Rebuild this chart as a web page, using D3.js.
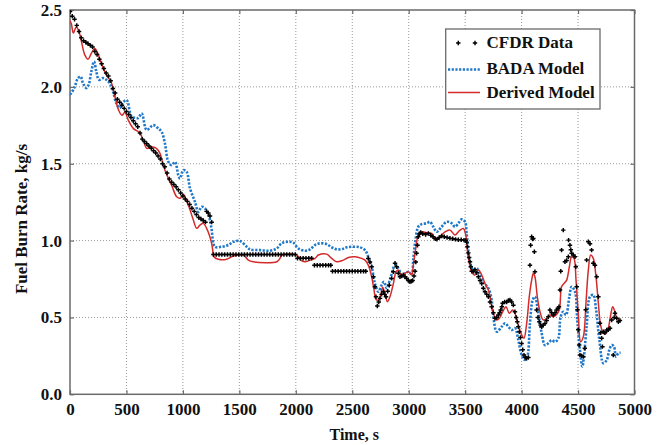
<!DOCTYPE html>
<html><head><meta charset="utf-8">
<script src="https://cdn.jsdelivr.net/npm/d3@7"></script>
<style>
html,body{margin:0;padding:0;background:#fff;}
svg text{font-family:"Liberation Serif","Times New Roman",serif;font-weight:bold;fill:#111;}
</style></head>
<body>
<svg id="chart" width="667" height="445"></svg>
<script>
// ---- data ----
const xTicks = [0,500,1000,1500,2000,2500,3000,3500,4000,4500,5000];
const yTicks = [0.0,0.5,1.0,1.5,2.0,2.5];
const seriesNames = ["CFDR Data","BADA Model","Derived Model"];
const xLabel = "Time, s";
const yLabel = "Fuel Burn Rate, kg/s";

// CFDR recorded points [time s, kg/s]
const cfdrData = [
[0,2.49],[20,2.46],[40,2.44],[60,2.40],[80,2.36],[100,2.32],[120,2.30],[140,2.29],[160,2.28],[180,2.27],
[200,2.26],[220,2.23],[240,2.21],[260,2.18],[280,2.15],[300,2.12],[320,2.09],[340,2.07],[360,2.04],[380,1.99],
[400,1.96],[420,1.92],[440,1.90],[460,1.88],[480,1.86],[500,1.84],[520,1.82],[540,1.80],[560,1.78],[580,1.76],
[600,1.74],[620,1.70],[640,1.66],[660,1.645],[680,1.63],[700,1.615],[720,1.60],[740,1.585],[760,1.57],[780,1.55],
[800,1.53],[820,1.50],[840,1.48],[860,1.44],[880,1.40],[900,1.38],[920,1.365],[940,1.35],[960,1.33],[980,1.31],
[1000,1.29],[1020,1.27],[1040,1.255],[1060,1.235],[1080,1.21],[1100,1.19],[1120,1.17],[1140,1.15],[1160,1.14],[1180,1.13],
[1200,1.12],[1210,1.19],[1225,1.18],[1240,1.16],[1255,1.12],
[1270,0.91],[1295,0.91],[1320,0.91],[1345,0.91],[1370,0.91],[1395,0.91],[1420,0.91],[1445,0.91],[1470,0.91],[1495,0.91],
[1520,0.91],[1545,0.91],[1570,0.91],[1595,0.91],[1620,0.91],[1645,0.91],[1670,0.91],[1695,0.91],[1720,0.91],[1745,0.91],
[1770,0.91],[1795,0.91],[1820,0.91],[1845,0.91],[1870,0.91],[1895,0.91],[1920,0.91],[1945,0.91],[1970,0.91],[1995,0.91],
[2015,0.885],[2040,0.885],[2065,0.885],[2090,0.885],[2115,0.885],[2140,0.885],
[2165,0.84],[2190,0.84],[2215,0.84],[2240,0.84],[2265,0.84],[2290,0.84],[2310,0.84],
[2325,0.80],[2350,0.80],[2375,0.80],[2400,0.80],[2425,0.80],[2450,0.80],[2475,0.80],[2500,0.80],[2525,0.80],[2550,0.80],
[2575,0.80],[2600,0.80],[2620,0.80],
[2642,0.884],[2657,0.86],[2672,0.83],[2687,0.765],[2701,0.70],[2710,0.635],[2722,0.574],[2735,0.60],[2746,0.624],[2760,0.65],
[2775,0.667],[2787,0.65],[2799,0.635],[2814,0.67],[2828,0.71],[2849,0.754],[2864,0.797],[2879,0.852],[2893,0.83],[2908,0.787],
[2923,0.765],[2938,0.77],[2952,0.776],[2967,0.765],[2982,0.754],[2997,0.74],[3011,0.732],[3024,0.735],[3035,0.74],[3047,0.77],
[3056,0.80],[3063,0.86],[3070,0.917],[3078,0.97],[3085,1.025],[3095,1.045],[3106,1.053],[3125,1.045],[3150,1.04],[3174,1.047],
[3195,1.035],[3215,1.025],[3235,1.012],[3250,1.008],[3270,1.02],[3292,1.03],[3315,1.025],[3340,1.02],[3365,1.015],[3390,1.012],
[3415,1.008],[3440,1.006],[3465,1.005],[3490,1.003],[3505,1.0],[3513,0.99],[3520,0.96],[3528,0.92],[3535,0.89],[3543,0.862],
[3550,0.83],[3558,0.80],[3572,0.80],[3587,0.81],[3602,0.79],[3617,0.765],[3632,0.74],[3647,0.72],[3661,0.69],[3676,0.667],
[3691,0.65],[3706,0.635],[3720,0.60],[3735,0.57],[3750,0.53],[3764,0.494],[3780,0.50],[3794,0.516],[3805,0.53],[3815,0.548],
[3825,0.57],[3832,0.592],[3850,0.60],[3868,0.60],[3883,0.61],[3897,0.613],[3912,0.60],[3927,0.58],[3941,0.537],[3952,0.50],
[3962,0.472],[3971,0.44],[3980,0.407],[3990,0.37],[4000,0.33],[4010,0.29],[4021,0.255],[4033,0.24],[4045,0.234],[4060,0.24],
[4074,0.84],[4080,0.97],[4089,1.025],[4097,1.01],[4104,1.014],[4113,0.927],[4118,0.797],
[4133,0.548],[4145,0.50],[4157,0.472],[4168,0.45],[4178,0.44],[4192,0.45],[4207,0.46],[4222,0.48],[4237,0.505],[4251,0.548],
[4266,0.53],[4281,0.516],[4296,0.53],[4310,0.548],[4322,0.56],[4331,0.57],[4340,0.678],[4347,0.80],[4354,0.938],[4369,1.068],
[4384,0.862],[4399,0.87],[4414,0.895],[4416,1.003],[4428,0.97],[4436,0.94],[4443,0.917],[4458,0.906],[4473,0.895],[4480,0.83],
[4488,0.70],[4495,0.55],[4502,0.42],[4510,0.32],[4517,0.255],[4532,0.25],[4547,0.245],[4560,0.30],[4568,0.55],[4576,0.873],
[4591,0.992],[4606,0.98],[4620,0.938],[4635,0.852],[4650,0.84],[4665,0.765],[4680,0.635],[4694,0.462],[4700,0.40],[4709,0.364],
[4716,0.31],[4724,0.407],[4738,0.40],[4754,0.418],[4768,0.42],[4783,0.43],[4798,0.483],[4812,0.255],[4820,0.50],[4827,0.527],
[4842,0.494],[4857,0.472],[4871,0.48]
];

// BADA model [time s, kg/s]
const badaData = [
[0,1.95],[12,1.96],[41,2.00],[71,2.057],[94,2.067],[115,2.024],[145,1.992],[165,2.013],[189,2.10],[213,2.165],
[233,2.10],[257,2.046],[292,2.057],[322,2.046],[351,2.024],[381,1.97],[410,1.894],[440,1.862],[470,1.90],[502,1.914],
[546,1.81],[602,1.797],[635,1.827],[679,1.72],[738,1.751],[782,1.729],[812,1.707],[841,1.632],[871,1.512],[900,1.491],
[930,1.512],[959,1.426],[974,1.404],[1004,1.458],[1033,1.447],[1063,1.339],[1107,1.252],[1137,1.187],[1166,1.22],[1196,1.209],
[1225,1.166],[1240,1.133],[1255,1.068],[1284,0.96],[1343,0.96],[1402,0.971],[1447,0.992],[1506,0.997],[1565,0.96],[1594,0.943],
[1683,0.938],[1772,0.934],[1831,0.949],[1875,0.982],[1934,0.992],[1978,0.986],[2022,0.949],[2081,0.934],[2126,0.943],[2170,0.971],
[2214,0.982],[2273,0.977],[2318,0.956],[2362,0.943],[2410,0.945],[2451,0.956],[2510,0.96],[2569,0.956],[2613,0.938],[2642,0.895],
[2672,0.83],[2701,0.72],[2731,0.667],[2760,0.71],[2781,0.732],[2805,0.69],[2840,0.76],[2879,0.84],[2908,0.82],[2938,0.776],
[2967,0.787],[2997,0.797],[3026,0.787],[3041,0.884],[3056,0.982],[3085,1.09],[3115,1.107],[3159,1.112],[3189,1.122],[3218,1.09],
[3248,1.057],[3292,1.09],[3337,1.122],[3381,1.112],[3410,1.09],[3439,1.112],[3469,1.138],[3499,1.122],[3513,1.047],[3528,0.938],
[3543,0.862],[3572,0.808],[3602,0.82],[3632,0.776],[3661,0.732],[3706,0.69],[3735,0.613],[3750,0.505],[3780,0.407],[3824,0.44],
[3853,0.462],[3883,0.44],[3912,0.418],[3942,0.43],[3971,0.353],[4001,0.255],[4030,0.223],[4051,0.245],[4074,0.462],[4098,0.613],
[4118,0.635],[4148,0.527],[4178,0.397],[4207,0.32],[4237,0.332],[4266,0.353],[4296,0.342],[4325,0.364],[4346,0.505],[4369,0.537],
[4393,0.516],[4423,0.635],[4443,0.70],[4473,0.667],[4493,0.483],[4517,0.288],[4538,0.18],[4552,0.245],[4576,0.44],[4606,0.635],
[4635,0.646],[4660,0.548],[4689,0.353],[4724,0.202],[4754,0.223],[4777,0.288],[4798,0.32],[4818,0.31],[4836,0.245],[4857,0.267],
[4877,0.27]
];

// Derived model [time s, kg/s]
const derivedData = [
[0,2.43],[12,2.41],[30,2.35],[55,2.39],[75,2.37],[100,2.30],[130,2.21],[160,2.18],[190,2.22],[220,2.25],
[245,2.22],[270,2.17],[300,2.11],[330,2.07],[365,2.03],[400,1.93],[430,1.85],[460,1.815],[487,1.835],[515,1.785],
[560,1.73],[590,1.715],[620,1.70],[650,1.65],[680,1.60],[720,1.61],[765,1.60],[797,1.567],[826,1.49],[856,1.43],
[900,1.36],[945,1.285],[975,1.275],[1004,1.30],[1033,1.26],[1063,1.20],[1092,1.135],[1122,1.08],[1151,1.10],[1181,1.112],
[1210,1.08],[1234,1.036],[1255,0.98],[1264,0.94],[1275,0.895],[1314,0.878],[1388,0.878],[1447,0.899],[1535,0.906],[1579,0.873],
[1624,0.862],[1831,0.862],[1860,0.884],[1875,0.906],[2008,0.906],[2037,0.878],[2081,0.862],[2126,0.873],[2170,0.884],[2200,0.906],
[2273,0.912],[2318,0.884],[2362,0.862],[2421,0.873],[2466,0.89],[2524,0.895],[2583,0.884],[2613,0.873],[2642,0.84],[2672,0.765],
[2693,0.678],[2710,0.618],[2731,0.613],[2752,0.646],[2769,0.696],[2790,0.657],[2811,0.602],[2834,0.635],[2864,0.72],[2888,0.797],
[2908,0.808],[2938,0.765],[2967,0.787],[2997,0.797],[3026,0.776],[3041,0.84],[3065,0.96],[3085,1.036],[3115,1.057],[3160,1.05],
[3204,1.047],[3242,1.003],[3277,1.025],[3322,1.057],[3366,1.068],[3410,1.036],[3448,1.064],[3484,1.079],[3508,1.025],[3519,0.938],
[3537,0.852],[3558,0.797],[3587,0.776],[3617,0.808],[3647,0.776],[3676,0.72],[3706,0.678],[3720,0.635],[3750,0.527],[3780,0.483],
[3803,0.494],[3832,0.537],[3862,0.57],[3891,0.527],[3921,0.548],[3941,0.527],[3971,0.45],[4001,0.386],[4021,0.364],[4045,0.462],
[4068,0.635],[4089,0.743],[4104,0.787],[4118,0.765],[4139,0.635],[4163,0.537],[4192,0.483],[4222,0.494],[4251,0.516],[4281,0.505],
[4310,0.52],[4334,0.548],[4354,0.70],[4375,0.72],[4399,0.743],[4423,0.83],[4443,0.895],[4464,0.884],[4482,0.743],[4502,0.527],
[4523,0.342],[4547,0.375],[4570,0.592],[4591,0.808],[4612,0.906],[4635,0.884],[4656,0.787],[4680,0.592],[4700,0.45],[4724,0.397],
[4748,0.397],[4768,0.43],[4789,0.516],[4807,0.57],[4827,0.537],[4842,0.50],[4866,0.488]
];

// ---- drawing ----
const W = 667, H = 445;
const m = {left:70, top:10, right:32.5, bottom:50.7};
const pw = W - m.left - m.right, ph = H - m.top - m.bottom;
const svg = d3.select("#chart");
const g = svg.append("g").attr("transform",`translate(${m.left},${m.top})`);

const x = d3.scaleLinear().domain([0,5000]).range([0,pw]);
const y = d3.scaleLinear().domain([0,2.5]).range([ph,0]);

const frameColor = "#6a6a6a";
const gridColor = "#9a9a9a";

// grid
g.append("g").selectAll("line").data(xTicks.slice(1,-1)).join("line")
  .attr("x1",d=>x(d)).attr("x2",d=>x(d)).attr("y1",0).attr("y2",ph)
  .attr("stroke",gridColor).attr("stroke-width",1).attr("stroke-dasharray","1,2");
g.append("g").selectAll("line").data(yTicks.slice(1,-1)).join("line")
  .attr("y1",d=>y(d)).attr("y2",d=>y(d)).attr("x1",0).attr("x2",pw)
  .attr("stroke",gridColor).attr("stroke-width",1).attr("stroke-dasharray","1,2");

// axes
const fontSize = 17;
const xAxis = g.append("g").attr("transform",`translate(0,${ph})`)
  .call(d3.axisBottom(x).tickValues(xTicks).tickFormat(d3.format("d")).tickSizeInner(-4).tickSizeOuter(0).tickPadding(9));
const yAxis = g.append("g")
  .call(d3.axisLeft(y).tickValues(yTicks).tickFormat(d3.format(".1f")).tickSizeInner(-4).tickSizeOuter(0).tickPadding(8));
const xTop = g.append("g")
  .call(d3.axisTop(x).tickValues(xTicks).tickFormat("").tickSizeInner(-4).tickSizeOuter(0));
const yRight = g.append("g").attr("transform",`translate(${pw},0)`)
  .call(d3.axisRight(y).tickValues(yTicks).tickFormat("").tickSizeInner(-4).tickSizeOuter(0));
[xAxis,yAxis,xTop,yRight].forEach(a=>{
  a.select(".domain").remove();
  a.selectAll(".tick line").attr("stroke",frameColor).attr("stroke-width",1.2);
  a.selectAll("text").attr("font-size",fontSize).attr("fill","#111")
    .style("font-family",'"Liberation Serif","Times New Roman",serif').style("font-weight","bold");
});

// frame
g.append("rect").attr("x",0).attr("y",0).attr("width",pw).attr("height",ph)
  .attr("fill","none").attr("stroke",frameColor).attr("stroke-width",1.5);

// clip
svg.append("defs").append("clipPath").attr("id","clip").append("rect")
  .attr("x",0).attr("y",0).attr("width",pw).attr("height",ph);
const plot = g.append("g").attr("clip-path","url(#clip)");

const line = d3.line().x(d=>x(d[0])).y(d=>y(d[1])).curve(d3.curveCatmullRom.alpha(0.5));

const blue = "#1f78c8", red = "#d42a2a";
plot.append("path").datum(badaData).attr("d",line)
  .attr("fill","none").attr("stroke",blue).attr("stroke-width",2.6).attr("stroke-dasharray","2.2,1.5");
plot.append("path").datum(derivedData).attr("d",line)
  .attr("fill","none").attr("stroke",red).attr("stroke-width",1.5);
const sym = d3.symbol().type(d3.symbolCross).size(11);
plot.append("g").selectAll("path").data(cfdrData).join("path")
  .attr("transform",d=>`translate(${x(d[0])},${y(d[1])})`).attr("d",sym).attr("fill","#000");

// axis titles
svg.append("text").attr("x",m.left+pw/2+2).attr("y",439.5).attr("text-anchor","middle")
  .attr("font-size",16).text(xLabel);
svg.append("text").attr("transform",`translate(27,219) rotate(-90)`).attr("text-anchor","middle")
  .attr("font-size",17).text(yLabel);

// legend
const lg = svg.append("g");
lg.append("rect").attr("x",445.7).attr("y",29).attr("width",154.3).attr("height",80)
  .attr("fill","#fff").attr("stroke",frameColor).attr("stroke-width",1.3);
const rows = [48,74,98];
lg.selectAll("text.lab").data(seriesNames).join("text").attr("class","lab")
  .attr("x",486.5).attr("y",(d,i)=>rows[i]).attr("font-size",17).text(d=>d);
lg.selectAll("path.cf").data([458.3,475]).join("path").attr("class","cf")
  .attr("transform",d=>`translate(${d},43)`).attr("d",sym).attr("fill","#000");
lg.append("line").attr("x1",448).attr("x2",480).attr("y1",69.5).attr("y2",69.5)
  .attr("stroke",blue).attr("stroke-width",2.4).attr("stroke-dasharray","2.2,1.5");
lg.append("line").attr("x1",448).attr("x2",480).attr("y1",92.5).attr("y2",92.5)
  .attr("stroke",red).attr("stroke-width",1.5);
</script>
</body></html>
